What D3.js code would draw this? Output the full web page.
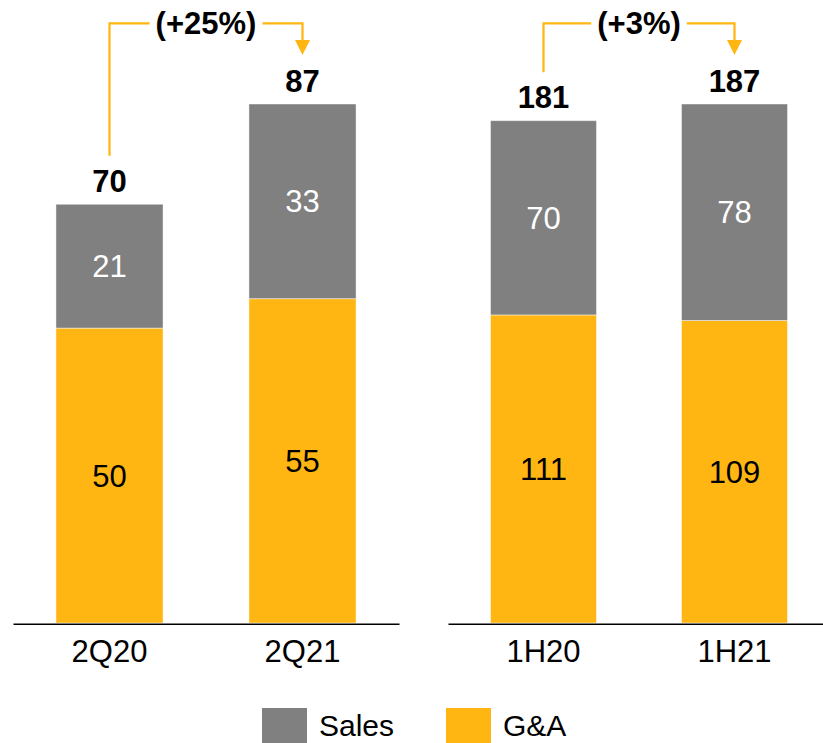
<!DOCTYPE html>
<html>
<head>
<meta charset="utf-8">
<script src="https://cdn.jsdelivr.net/npm/d3@7"></script>
<style>
  html, body { margin: 0; padding: 0; background: #fff; }
  svg { display: block; font-family: "Liberation Sans", Arial, Helvetica, sans-serif; }
</style>
</head>
<body>
<svg id="chart" width="823" height="743"></svg>
<script>
// Expense breakdown: quarterly and half-year comparisons
const categories   = ["2Q20", "2Q21", "1H20", "1H21"];
const salesValues  = [21, 33, 70, 78];
const gaValues     = [50, 55, 111, 109];
const totalLabels  = [70, 87, 181, 187];
const changeLabels = ["(+25%)", "(+3%)"];
const seriesNames  = ["Sales", "G&A"];
const panelGroups  = [[0, 1], [2, 3]];

const COLORS = { sales: "#808080", ga: "#FFB612" };
const FONT = 31;

const svg = d3.select("#chart");
const baseY = 623, topY = 104;
const panelRanges = [[13, 399], [448, 830]];

panelGroups.forEach((group, pi) => {
  const rows = group.map(i => ({
    cat: categories[i], ga: gaValues[i], sales: salesValues[i], total: totalLabels[i]
  }));
  const x = d3.scaleBand()
    .domain(rows.map(r => r.cat))
    .range(panelRanges[pi])
    .paddingInner(0.445)
    .paddingOuter(0.2225);
  const y = d3.scaleLinear()
    .domain([0, d3.max(rows, r => r.ga + r.sales)])
    .range([baseY, topY]);

  const stacked = d3.stack().keys(["ga", "sales"])(rows);
  const g = svg.append("g");

  // stacked bars
  const layers = g.selectAll("g.layer").data(stacked).join("g")
    .attr("class", "layer")
    .attr("fill", s => COLORS[s.key]);
  layers.selectAll("rect").data(s => s).join("rect")
    .attr("x", d => x(d.data.cat))
    .attr("width", x.bandwidth())
    .attr("y", d => y(d[1]))
    .attr("height", d => y(d[0]) - y(d[1]))
    .attr("stroke", "rgba(255,255,255,0.45)")
    .attr("stroke-width", 1);

  // segment values
  layers.each(function(s) {
    d3.select(this).selectAll("text").data(s).join("text")
      .attr("x", d => x(d.data.cat) + x.bandwidth() / 2)
      .attr("y", d => (y(d[0]) + y(d[1])) / 2)
      .attr("dy", "0.36em")
      .attr("text-anchor", "middle")
      .attr("font-size", FONT)
      .attr("fill", s.key === "sales" ? "#fff" : "#000")
      .text(d => d.data[s.key]);
  });

  // totals
  g.selectAll("text.total").data(rows).join("text")
    .attr("class", "total")
    .attr("x", r => x(r.cat) + x.bandwidth() / 2)
    .attr("y", r => y(r.ga + r.sales) - 12.5)
    .attr("text-anchor", "middle")
    .attr("font-size", FONT)
    .attr("font-weight", "bold")
    .attr("fill", "#000")
    .text(r => r.total);

  // category axis
  const axis = g.append("g")
    .attr("transform", `translate(0,${baseY + 0.75})`)
    .call(d3.axisBottom(x).tickSize(0).tickSizeOuter(0).tickPadding(16));
  axis.select(".domain").attr("stroke", "#000").attr("stroke-width", 1.5);
  axis.selectAll(".tick text")
    .attr("font-size", FONT)
    .attr("font-family", "'Liberation Sans', Arial, sans-serif")
    .attr("fill", "#000");

  // growth annotation bracket
  const lineY = 23.3;
  const xa = x(rows[0].cat) + x.bandwidth() / 2;
  const xb = x(rows[1].cat) + x.bandwidth() / 2;
  const mid = (xa + xb) / 2;
  const label = g.append("text")
    .attr("x", mid)
    .attr("y", lineY + 11)
    .attr("text-anchor", "middle")
    .attr("font-size", FONT)
    .attr("font-weight", "bold")
    .attr("fill", "#000")
    .text(changeLabels[pi]);
  const w = label.node().getComputedTextLength();
  const topA = y(rows[0].ga + rows[0].sales);
  const topB = y(rows[1].ga + rows[1].sales);
  const endA = topA - 48.5;
  const tipB = topB - 49;
  const path = d3.path();
  path.moveTo(xa, endA);
  path.lineTo(xa, lineY);
  path.lineTo(mid - w / 2 - 6, lineY);
  path.moveTo(mid + w / 2 + 6, lineY);
  path.lineTo(xb, lineY);
  path.lineTo(xb, tipB - 15);
  g.append("path")
    .attr("d", path.toString())
    .attr("fill", "none")
    .attr("stroke", COLORS.ga)
    .attr("stroke-width", 2.25);
  g.append("path")
    .attr("d", `M${xb - 7.5},${tipB - 15}L${xb + 7.5},${tipB - 15}L${xb},${tipB}Z`)
    .attr("fill", COLORS.ga);
});

// legend
const legend = svg.append("g");
const legendItems = [
  { name: seriesNames[0], color: COLORS.sales, x: 262 },
  { name: seriesNames[1], color: COLORS.ga, x: 446 }
];
legend.selectAll("rect").data(legendItems).join("rect")
  .attr("x", d => d.x).attr("y", 708)
  .attr("width", 45).attr("height", 45)
  .attr("fill", d => d.color);
legend.selectAll("text").data(legendItems).join("text")
  .attr("x", d => d.x + 57).attr("y", 736)
  .attr("font-size", 30)
  .attr("fill", "#000")
  .text(d => d.name);
</script>
</body>
</html>
